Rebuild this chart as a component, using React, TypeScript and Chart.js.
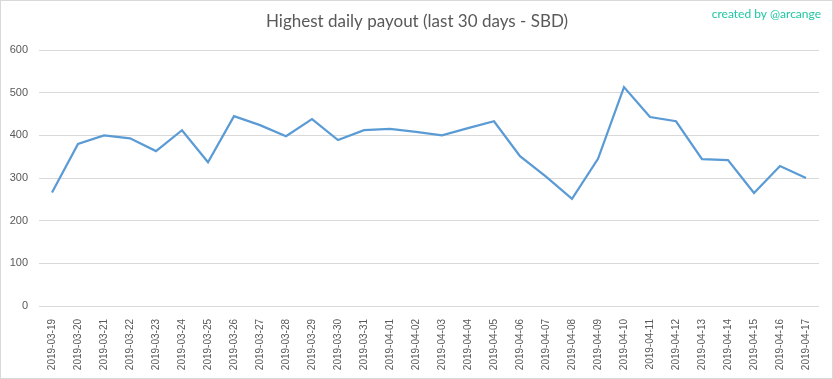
import React, { useEffect, useRef } from "react";
import { Chart, registerables } from "chart.js";

Chart.register(...registerables);

const titleText = "Highest daily payout (last 30 days - SBD)";
const creditText = "created by @arcange";

const dates = [
  "2019-03-19", "2019-03-20", "2019-03-21", "2019-03-22", "2019-03-23",
  "2019-03-24", "2019-03-25", "2019-03-26", "2019-03-27", "2019-03-28",
  "2019-03-29", "2019-03-30", "2019-03-31", "2019-04-01", "2019-04-02",
  "2019-04-03", "2019-04-04", "2019-04-05", "2019-04-06", "2019-04-07",
  "2019-04-08", "2019-04-09", "2019-04-10", "2019-04-11", "2019-04-12",
  "2019-04-13", "2019-04-14", "2019-04-15", "2019-04-16", "2019-04-17",
];

const payouts = [
  266, 380, 400, 393, 363, 412, 337, 445, 424, 398,
  438, 389, 412, 415, 408, 400, 417, 433, 351, 303,
  251, 345, 513, 443, 433, 344, 342, 265, 328, 300,
];

const yMin = 0;
const yMax = 600;
const yStep = 100;

const decorPlugin = {
  id: "decor",
  beforeDraw(chart: any) {
    const { ctx, width, height } = chart;
    ctx.save();
    ctx.fillStyle = "#ffffff";
    ctx.fillRect(0, 0, width, height);
    ctx.strokeStyle = "#d9d9d9";
    ctx.lineWidth = 1;
    ctx.strokeRect(0.5, 0.5, width - 1, height - 1);
    ctx.restore();
  },
  afterDraw(chart: any) {
    const { ctx, width } = chart;
    ctx.save();
    ctx.fillStyle = "#595959";
    ctx.font = "17px Lato";
    ctx.textAlign = "center";
    ctx.textBaseline = "middle";
    ctx.fillText(titleText, 417, 22);
    ctx.fillStyle = "#1fc7a2";
    ctx.font = "12px Lato";
    ctx.textAlign = "right";
    ctx.fillText(creditText, width - 12, 14);
    ctx.restore();
  },
};

export default function App() {
  const ref = useRef<HTMLCanvasElement | null>(null);

  useEffect(() => {
    document.body.style.margin = "0";
    const canvas = ref.current;
    if (!canvas) return;
    const chart = new Chart(canvas, {
      type: "line",
      data: {
        labels: dates,
        datasets: [
          {
            label: "Highest daily payout",
            data: payouts,
            borderColor: "#5b9bd5",
            backgroundColor: "#5b9bd5",
            borderWidth: 2.25,
            pointRadius: 0,
            tension: 0,
            fill: false,
          },
        ],
      },
      options: {
        animation: false,
        responsive: false,
        maintainAspectRatio: false,
        layout: { padding: { top: 50, right: 14, left: 0, bottom: 0 } },
        plugins: {
          legend: { display: false },
          title: { display: false },
          tooltip: { enabled: false },
        },
        scales: {
          x: {
            offset: true,
            grid: { display: false },
            border: { display: false },
            ticks: {
              minRotation: 90,
              maxRotation: 90,
              autoSkip: false,
              color: "#595959",
              font: { family: "Liberation Sans", size: 10 },
              padding: 5,
            },
            afterFit(scale: any) {
              scale.height = 73;
            },
          },
          y: {
            min: yMin,
            max: yMax,
            grid: { color: "#d9d9d9", lineWidth: 1, drawTicks: false },
            border: { display: false },
            ticks: {
              stepSize: yStep,
              color: "#595959",
              font: { family: "Liberation Sans", size: 11 },
              padding: 11,
            },
            afterFit(scale: any) {
              scale.width = 39;
            },
          },
        },
      },
      plugins: [decorPlugin],
    });
    return () => chart.destroy();
  }, []);

  return (
    <div style={{ position: "absolute", left: 0, top: 0, width: 833, height: 379 }}>
      <canvas ref={ref} width={833} height={379} style={{ width: 833, height: 379, display: "block" }} />
    </div>
  );
}
